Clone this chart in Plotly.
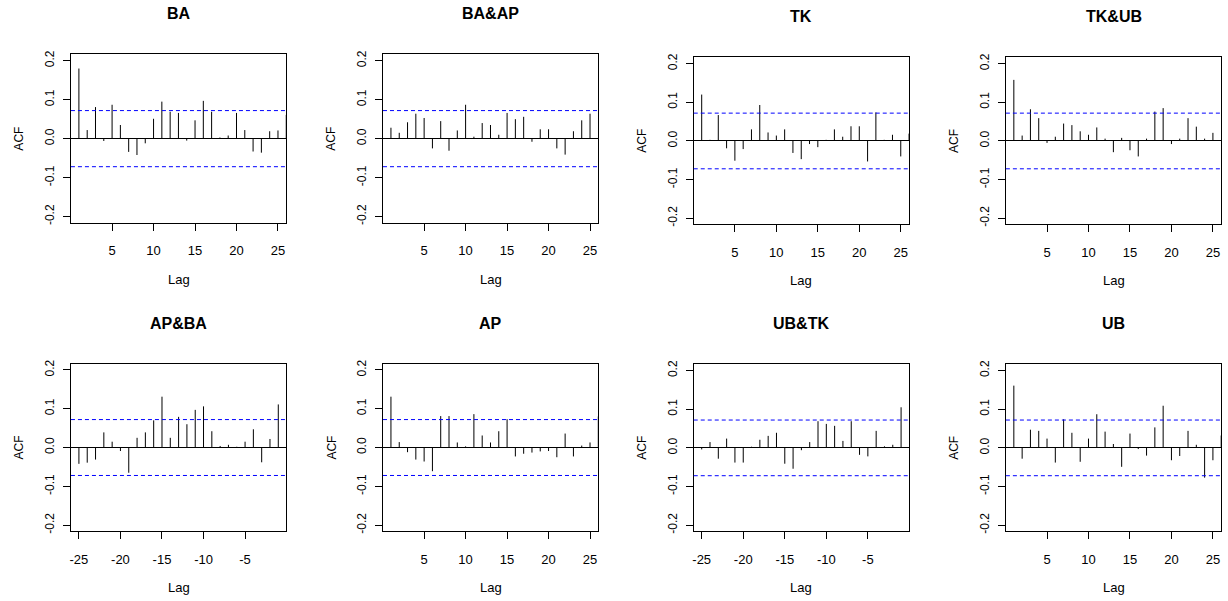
import plotly.graph_objects as go

W, H = 1228, 601

# Autocorrelations (diagonal) and cross-correlations (off-diagonal)
acf_ba = [0.180, 0.022, 0.081, -0.006, 0.087, 0.035, -0.034, -0.042, -0.012, 0.051,
          0.095, 0.069, 0.066, -0.005, 0.047, 0.097, 0.069, 0.003, 0.008, 0.066,
          0.022, -0.033, -0.036, 0.019, 0.021, 0.061]
ccf_ba_ap = [0.028, 0.015, 0.042, 0.064, 0.053, -0.025, 0.045, -0.031, 0.021, 0.087,
             0.005, 0.040, 0.035, 0.010, 0.066, 0.050, 0.056, -0.008, 0.024, 0.024,
             -0.025, -0.041, 0.019, 0.047, 0.064]
acf_tk = [0.120, 0.003, 0.067, -0.019, -0.051, -0.021, 0.030, 0.093, 0.022, 0.014,
          0.030, -0.031, -0.047, -0.008, -0.016, 0.003, 0.030, 0.011, 0.038, 0.038,
          -0.053, 0.074, 0.003, 0.016, -0.040, 0.019]
ccf_tk_ub = [0.158, 0.014, 0.082, 0.059, -0.005, 0.011, 0.045, 0.041, 0.025, 0.016,
             0.035, 0.006, -0.029, 0.008, -0.024, -0.040, 0.006, 0.076, 0.085, -0.008,
             0.006, 0.059, 0.037, 0.006, 0.021]
ccf_ap_ba = [-0.042, -0.039, -0.031, 0.039, 0.015, -0.009, -0.065, 0.025, 0.039, 0.070,
             0.131, 0.025, 0.079, 0.060, 0.097, 0.106, 0.042, 0.004, 0.007, 0.002,
             0.015, 0.047, -0.038, 0.022, 0.111]
acf_ap = [0.131, 0.014, -0.012, -0.031, -0.036, -0.061, 0.081, 0.081, 0.013, 0.003,
          0.086, 0.031, 0.013, 0.042, 0.073, -0.023, -0.016, -0.013, -0.010, -0.009,
          -0.025, 0.036, -0.023, 0.005, 0.013, 0.080]
ccf_ub_tk = [-0.004, 0.015, -0.028, 0.024, -0.038, -0.038, 0.003, 0.021, 0.031, 0.039,
             -0.041, -0.054, -0.006, 0.015, 0.069, 0.062, 0.057, 0.018, 0.069, -0.018,
             -0.022, 0.044, 0.004, 0.008, 0.105]
acf_ub = [0.161, -0.028, 0.047, 0.044, 0.024, -0.038, 0.074, 0.039, -0.036, 0.024,
          0.087, 0.042, 0.010, -0.049, 0.037, -0.003, -0.020, 0.053, 0.109, -0.032,
          -0.021, 0.044, 0.008, -0.077, -0.032, 0.032]

titles = ["BA", "BA&AP", "TK", "TK&UB", "AP&BA", "AP", "UB&TK", "UB"]
series = [acf_ba, ccf_ba_ap, acf_tk, ccf_tk_ub, ccf_ap_ba, acf_ap, ccf_ub_tk, acf_ub]
negative_lags = [False, False, False, False, True, False, True, False]

ci_bound = 0.072
y_ticks = [-0.2, -0.1, 0.0, 0.1, 0.2]
x_ticks_pos = [5, 10, 15, 20, 25]
x_ticks_neg = [-25, -20, -15, -10, -5]

# panel boxes in pixels
col_px = [(70, 285.5), (382.3, 597.8), (693.3, 908.8), (1005.7, 1221.2)]
row_px_left = [(51, 221), (363.3, 532.7)]
row_px_right = [(54, 222.7), (364, 532.7)]

FONT = "Liberation Sans, Arial, Helvetica, sans-serif"

fig = go.Figure()
layout = dict(
    width=W, height=H,
    margin=dict(l=0, r=0, t=0, b=0),
    paper_bgcolor="white", plot_bgcolor="white",
    showlegend=False,
    font=dict(family=FONT, size=12, color="black"),
    shapes=[], annotations=[],
)

for i in range(8):
    r, c = divmod(i, 4)
    x0, x1 = col_px[c]
    y0, y1 = (row_px_left if c < 2 else row_px_right)[r]
    vals = series[i]
    if negative_lags[i]:
        lags = list(range(-len(vals), 0))
        xr = [-25.96, -0.04]
        xt = x_ticks_neg
    else:
        lags = list(range(1, len(vals) + 1))
        xr = [0.04, 26.0]
        xt = x_ticks_pos

    xs, ys = [], []
    for lag, v in zip(lags, vals):
        xs += [lag, lag, None]
        ys += [0, v, None]

    n = "" if i == 0 else str(i + 1)
    fig.add_trace(go.Scatter(
        x=xs, y=ys, mode="lines", xaxis="x" + n, yaxis="y" + n,
        line=dict(color="black", width=1), hoverinfo="skip",
    ))

    layout["xaxis" + n] = dict(
        domain=[x0 / W, x1 / W], anchor="y" + n, range=xr,
        showgrid=False, zeroline=False,
        showline=True, mirror=True, linecolor="black", linewidth=1,
        ticks="outside", ticklen=7, tickcolor="black", tickwidth=1,
        tickvals=xt, ticktext=[str(t) for t in xt],
        tickfont=dict(size=13), ticklabelstandoff=9,
    )
    layout["yaxis" + n] = dict(
        domain=[1 - y1 / H, 1 - y0 / H], anchor="x" + n, range=[-0.216, 0.216],
        showgrid=False, zeroline=True, zerolinecolor="black", zerolinewidth=1,
        showline=True, mirror=True, linecolor="black", linewidth=1,
        ticks="outside", ticklen=7, tickcolor="black", tickwidth=1,
        tickvals=y_ticks, ticktext=[f"{t:.1f}" for t in y_ticks],
        tickangle=-90, tickfont=dict(size=12), ticklabelstandoff=4,
    )

    for b in (ci_bound, -ci_bound):
        layout["shapes"].append(dict(
            type="line", xref=f"x{n} domain", yref="y" + n,
            x0=0, x1=1, y0=b, y1=b,
            line=dict(color="#0000ff", width=1, dash="4px,3px"),
        ))

    cx = (x0 + x1) / 2 / W
    cy = 1 - (y0 + y1) / 2 / H
    layout["annotations"] += [
        dict(text="<b>" + titles[i].replace("&", "&amp;") + "</b>", xref="paper", yref="paper",
             x=cx, y=1 - (y0 - 41) / H, xanchor="center", yanchor="middle",
             showarrow=False, font=dict(size=16)),
        dict(text="ACF", xref="paper", yref="paper", x=(x0 - 52) / W, y=cy,
             xanchor="center", yanchor="middle", textangle=-90,
             showarrow=False, font=dict(size=12)),
        dict(text="Lag", xref="paper", yref="paper", x=cx, y=1 - (y1 + 57) / H,
             xanchor="center", yanchor="middle", showarrow=False, font=dict(size=13)),
    ]

fig.update_layout(**layout)
fig.write_html("out.html")
